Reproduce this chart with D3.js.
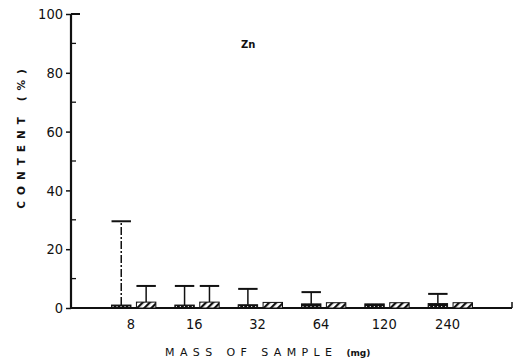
<!DOCTYPE html>
<html>
<head>
<meta charset="utf-8">
<script src="https://cdn.jsdelivr.net/npm/d3@7"></script>
<style>
  body { margin: 0; background: #fff; }
  svg { display: block; }
  .tick text { font-family: "Liberation Sans Narrow", "DejaVu Sans Condensed", sans-serif; }
</style>
</head>
<body>
<div id="chart"></div>
<script>
// sample masses (mg)
var masses = ["8", "16", "32", "64", "120", "240"];
// mean Zn content (%), two methods per mass
var darkValues = [1.0, 1.0, 1.1, 1.4, 1.4, 1.5];
var hatchValues = [2.0, 2.0, 1.9, 1.8, 1.8, 1.8];
// upper end of the error bars (%), null = none drawn
var darkErrTop = [29.5, 7.5, 6.5, 5.4, null, 4.8];
var hatchErrTop = [7.5, 7.5, null, null, null, null];
var yMajor = [0, 20, 40, 60, 80, 100];
var yMinor = [10, 30, 50, 70, 90];

var svgWidth = 516, svgHeight = 361;
var margin = { top: 14, right: 3, bottom: 53, left: 71 };
var chartWidth = svgWidth - margin.left - margin.right;
var chartHeight = svgHeight - margin.top - margin.bottom;

var svg = d3.select("#chart").append("svg")
  .attr("width", svgWidth)
  .attr("height", svgHeight);

// patterns: dark speckled and diagonal hatch
var defs = svg.append("defs");
var speck = defs.append("pattern")
  .attr("id", "speck").attr("patternUnits", "userSpaceOnUse")
  .attr("width", 4).attr("height", 3);
speck.append("rect").attr("width", 4).attr("height", 3).attr("fill", "#111");
speck.append("rect").attr("x", 1).attr("y", 1).attr("width", 1).attr("height", 1).attr("fill", "#fff");

var hatch = defs.append("pattern")
  .attr("id", "hatch").attr("patternUnits", "userSpaceOnUse")
  .attr("width", 5).attr("height", 5)
  .attr("patternTransform", "rotate(45)");
hatch.append("rect").attr("width", 5).attr("height", 5).attr("fill", "#fff");
hatch.append("rect").attr("width", 2.2).attr("height", 5).attr("fill", "#111");

var chartGroup = svg.append("g")
  .attr("transform", `translate(${margin.left}, ${margin.top})`);

var x0 = d3.scaleBand()
  .domain(masses)
  .range([0, chartWidth])
  .paddingInner(0.3)
  .paddingOuter(0.64);

var x1 = d3.scaleBand()
  .domain(["dark", "hatch"])
  .range([0, x0.bandwidth()])
  .paddingInner(0.22);

var y = d3.scaleLinear()
  .domain([0, 100])
  .range([chartHeight, 0]);

// y axis: major ticks outward with labels
var leftAxis = d3.axisLeft(y).tickValues(yMajor).tickSize(5).tickPadding(3);
var yAxisG = chartGroup.append("g").call(leftAxis);
yAxisG.select(".domain").remove();
yAxisG.selectAll(".tick line").attr("stroke", "#111").attr("stroke-width", 1.5);
yAxisG.selectAll(".tick text").attr("font-size", "14.5px").attr("fill", "#111");

// minor ticks inward
chartGroup.selectAll(".minor")
  .data(yMinor)
  .enter()
  .append("line")
  .attr("x1", 0).attr("x2", 5)
  .attr("y1", d => y(d)).attr("y2", d => y(d))
  .attr("stroke", "#111").attr("stroke-width", 1.3);

// top cap and axis lines
chartGroup.append("line")
  .attr("x1", 0).attr("x2", 9).attr("y1", y(100)).attr("y2", y(100))
  .attr("stroke", "#111").attr("stroke-width", 2);
chartGroup.append("line")
  .attr("x1", 0).attr("x2", 0).attr("y1", y(100)).attr("y2", y(0) + 1)
  .attr("stroke", "#111").attr("stroke-width", 2.2);

// x axis
var bottomAxis = d3.axisBottom(x0).tickSize(0).tickPadding(11);
var xAxisG = chartGroup.append("g")
  .attr("transform", `translate(0, ${chartHeight})`)
  .call(bottomAxis);
xAxisG.select(".domain").remove();
xAxisG.selectAll(".tick").attr("transform", d => `translate(${x0(d) + x1("dark") + x1.bandwidth()}, 0)`);
xAxisG.selectAll(".tick text").attr("font-size", "14.5px").attr("fill", "#111");

chartGroup.append("line")
  .attr("x1", -1).attr("x2", chartWidth - 1).attr("y1", y(0)).attr("y2", y(0))
  .attr("stroke", "#111").attr("stroke-width", 2);
chartGroup.append("line")
  .attr("x1", chartWidth - 1).attr("x2", chartWidth - 1).attr("y1", y(0)).attr("y2", y(0) - 6)
  .attr("stroke", "#111").attr("stroke-width", 1.5);

// bars
var groups = chartGroup.selectAll(".group")
  .data(masses)
  .enter()
  .append("g")
  .attr("transform", d => `translate(${x0(d)}, 0)`);

var barData = masses.map((m, i) => [
  { key: "dark", value: darkValues[i], err: darkErrTop[i], dashed: i === 0 },
  { key: "hatch", value: hatchValues[i], err: hatchErrTop[i], dashed: false }
]);

groups.each(function(m, i) {
  var g = d3.select(this);
  var bars = barData[i];

  // error bars
  bars.filter(b => b.err !== null).forEach(function(b) {
    var cx = x1(b.key) + x1.bandwidth() / 2;
    g.append("line")
      .attr("x1", cx).attr("x2", cx)
      .attr("y1", y(b.value)).attr("y2", y(b.err))
      .attr("stroke", "#111").attr("stroke-width", 1.5)
      .attr("stroke-dasharray", b.dashed ? "8,2,2,2" : null);
    g.append("line")
      .attr("x1", x1(b.key)).attr("x2", x1(b.key) + x1.bandwidth())
      .attr("y1", y(b.err)).attr("y2", y(b.err))
      .attr("stroke", "#111").attr("stroke-width", 2);
  });

  g.selectAll("rect")
    .data(bars)
    .enter()
    .append("rect")
    .attr("x", b => x1(b.key))
    .attr("y", b => y(b.value))
    .attr("width", x1.bandwidth())
    .attr("height", b => y(0) - y(b.value))
    .attr("fill", b => b.key === "dark" ? "url(#speck)" : "url(#hatch)")
    .attr("stroke", "#111")
    .attr("stroke-width", 1);
});

// element label
chartGroup.append("text")
  .attr("x", 170).attr("y", 34)
  .attr("font-family", "DejaVu Sans, sans-serif")
  .attr("font-size", "10px")
  .attr("font-weight", "bold")
  .attr("fill", "#111")
  .text("Zn");

// axis titles
chartGroup.append("text")
  .attr("transform", `translate(${22 - margin.left}, ${136 - margin.top}) rotate(-90)`)
  .attr("text-anchor", "middle")
  .attr("dominant-baseline", "middle")
  .attr("font-family", "DejaVu Sans, sans-serif")
  .attr("font-size", "10.5px")
  .attr("font-weight", "bold")
  .attr("letter-spacing", "6px")
  .attr("fill", "#111")
  .text("CONTENT (%)");

var xTitle = chartGroup.append("text")
  .attr("x", 165 - margin.left)
  .attr("y", 356 - margin.top)
  .attr("font-family", "DejaVu Sans, sans-serif")
  .attr("fill", "#111");
xTitle.append("tspan")
  .attr("font-size", "11px")
  .attr("letter-spacing", "5.4px")
  .text("MASS OF SAMPLE ");
xTitle.append("tspan")
  .attr("font-size", "9px")
  .attr("font-weight", "bold")
  .text("(mg)");
</script>
</body>
</html>
